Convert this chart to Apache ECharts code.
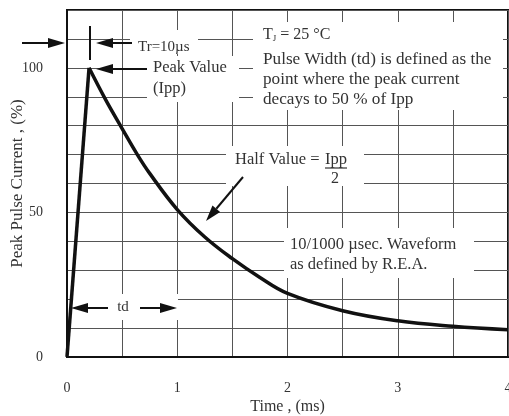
<!DOCTYPE html>
<html><head><meta charset="utf-8">
<script src="https://cdn.jsdelivr.net/npm/echarts@6/dist/echarts.min.js"></script>
<style>html,body{margin:0;padding:0;background:#fff}#c{width:509px;height:416px}</style>
</head><body><div id="c"></div>
<script>
// ---- data ----
const riseTime = [0, 0.2];
const riseValue = [0, 100];
const decayTime = [0.2, 0.35, 0.5, 0.63, 0.75, 1.0, 1.25, 1.5, 1.75, 2.0, 2.5, 3.0, 3.5, 4.0];
const decayValue = [100, 89, 79, 70.5, 63.5, 51, 41.5, 34, 27.5, 22, 16, 12.5, 10.6, 9.4];
const xTickLabels = [0, 1, 2, 3, 4];
const yTickLabels = [0, 50, 100];

const FONT = '"Liberation Serif", "DejaVu Serif", serif';
const TXT = '#333';
const INK = '#111';

function arrow(x1, y1, x2, y2, hl, hw) {
  const dx = x2 - x1, dy = y2 - y1, L = Math.hypot(dx, dy), ux = dx / L, uy = dy / L;
  const bx = x2 - ux * hl, by = y2 - uy * hl;
  const px = -uy * hw / 2, py = ux * hw / 2;
  return [
    { type: 'line', z: 10, shape: { x1: x1, y1: y1, x2: bx, y2: by }, style: { stroke: INK, lineWidth: 2 } },
    { type: 'polygon', z: 10, shape: { points: [[x2, y2], [bx + px, by + py], [bx - px, by - py]] }, style: { fill: INK } }
  ];
}
function box(x, y, w, h) {
  return { type: 'rect', z: 1, shape: { x: x, y: y, width: w, height: h }, style: { fill: '#fff' } };
}
function txt(x, y, s, size, extra) {
  return { type: 'text', z: 11, x: x, y: y,
    style: Object.assign({ text: s, fill: TXT, font: (size || 15) + 'px ' + FONT, textVerticalAlign: 'middle', textAlign: 'left' }, extra || {}) };
}

const graphics = [
  // white boxes behind annotations
  box(130, 30, 68, 24),
  box(147, 56, 92, 46),
  box(253, 22, 250, 88),
  box(226, 146, 138, 40),
  box(284, 228, 190, 50),
  box(70, 294, 108, 26),
  // Tr markers
  ...arrow(22, 43, 65, 43, 17, 10),
  { type: 'line', z: 10, shape: { x1: 90, y1: 26, x2: 90, y2: 60 }, style: { stroke: INK, lineWidth: 2 } },
  ...arrow(132, 43, 96, 43, 17, 10),
  txt(138, 47, 'Tr=10µs', 15),
  // Peak value
  ...arrow(147, 69, 96, 69, 17, 10),
  txt(153, 68, 'Peak Value', 16.5),
  txt(153, 89, '(Ipp)', 16.5),
  // TJ text
  { type: 'text', z: 11, x: 263, y: 35, style: { text: 'T{s|J} = 25 °C', fill: TXT, font: '16px ' + FONT, textVerticalAlign: 'middle',
      rich: { s: { fontSize: 9, fontFamily: FONT, fill: TXT, padding: [8, 0, 0, 0] } } } },
  txt(263, 59, 'Pulse Width (td) is defined as the', 17.2),
  txt(263, 79, 'point where the peak current', 17.2),
  txt(263, 99, 'decays to 50 % of Ipp', 17.2),
  // Half value
  txt(235, 160, 'Half Value =', 16.5),
  txt(325, 160, 'Ipp', 16.5),
  { type: 'line', z: 10, shape: { x1: 325, y1: 168, x2: 347, y2: 168 }, style: { stroke: TXT, lineWidth: 1.2 } },
  txt(331, 179, '2', 16),
  ...arrow(243, 177, 206, 221, 16, 10),
  // waveform text
  txt(290, 245, '10/1000 µsec. Waveform', 16.5),
  txt(290, 265, 'as defined by R.E.A.', 16.5),
  // td
  ...arrow(108, 308, 71, 308, 17, 10),
  txt(123, 307, 'td', 15, { textAlign: 'center' }),
  ...arrow(140, 308, 177, 308, 17, 10)
];

const chart = echarts.init(document.getElementById('c'), null, { renderer: 'canvas' });
chart.setOption({
  animation: false,
  backgroundColor: '#fff',
  grid: { left: 67, right: 1, top: 10, bottom: 59, outerBoundsMode: 'none', containLabel: false,
    show: true, borderColor: INK, borderWidth: 2, backgroundColor: 'transparent' },
  xAxis: {
    type: 'value', min: 0, max: 4, interval: 0.5,
    name: 'Time , (ms)', nameLocation: 'middle', nameGap: 42, nameMoveOverlap: false,
    nameTextStyle: { fontFamily: FONT, fontSize: 16, color: TXT },
    axisLine: { show: true, lineStyle: { color: INK, width: 2 } },
    axisTick: { show: false },
    splitLine: { show: true, lineStyle: { color: '#555', width: 1 } },
    axisLabel: { margin: 24, fontFamily: FONT, fontSize: 14, color: TXT,
      formatter: v => xTickLabels.indexOf(v) >= 0 ? String(v) : '' }
  },
  yAxis: {
    type: 'value', min: 0, max: 120, interval: 10,
    name: 'Peak Pulse Current , (%)', nameLocation: 'middle', nameGap: 41, nameMoveOverlap: false,
    nameTextStyle: { fontFamily: FONT, fontSize: 17, color: TXT },
    axisLine: { show: true, lineStyle: { color: INK, width: 2 } },
    axisTick: { show: false },
    splitLine: { show: true, lineStyle: { color: '#555', width: 1 } },
    axisLabel: { margin: 24, fontFamily: FONT, fontSize: 14, color: TXT,
      formatter: v => yTickLabels.indexOf(v) >= 0 ? String(v) : '' }
  },
  series: [
    { type: 'line', z: 5, symbol: 'none', data: riseTime.map((t, i) => [t, riseValue[i]]),
      lineStyle: { color: INK, width: 3.5 } },
    { type: 'line', z: 5, symbol: 'none', smooth: 0.4, data: decayTime.map((t, i) => [t, decayValue[i]]),
      lineStyle: { color: INK, width: 3.5 } }
  ],
  graphic: graphics
});
</script></body></html>
